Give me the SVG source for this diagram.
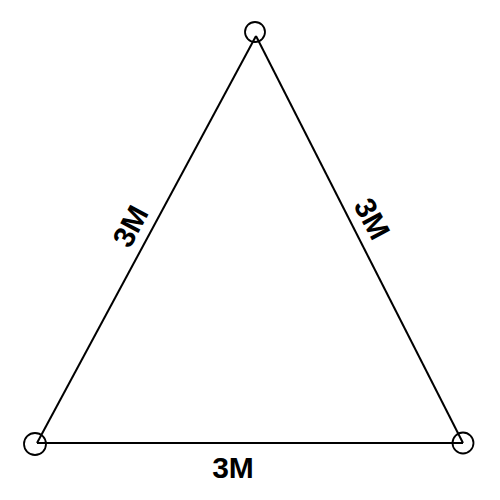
<svg xmlns="http://www.w3.org/2000/svg" width="500" height="500" viewBox="0 0 500 500">
<style>
.edge{fill:none;stroke:#000;stroke-width:2}
.pin{fill:none;stroke:#000;stroke-width:1.8}
.lbl{font-family:"Liberation Sans",Arial,sans-serif;font-weight:bold;font-size:30px;fill:#000;text-anchor:middle}
</style>
<rect width="500" height="500" fill="#fff"/>
<g id="connectors">
<line class="edge" x1="256" y1="36" x2="37" y2="443"/>
<line class="edge" x1="256" y1="36" x2="463" y2="443"/>
<line class="edge" x1="37" y1="443" x2="463" y2="443"/>
<text class="lbl" transform="translate(130,226) rotate(-61.7)" x="0" y="10.8">3M</text>
<text class="lbl" transform="translate(372.5,218.5) rotate(61.7)" x="0" y="10.8">3M</text>
<text class="lbl" x="233" y="478">3M</text>
</g>
<g id="node-top"><circle class="pin" cx="255" cy="32" r="10"/></g>
<g id="node-left"><circle class="pin" cx="35" cy="444" r="11"/></g>
<g id="node-right"><circle class="pin" cx="463" cy="443" r="10.5"/></g>
</svg>
